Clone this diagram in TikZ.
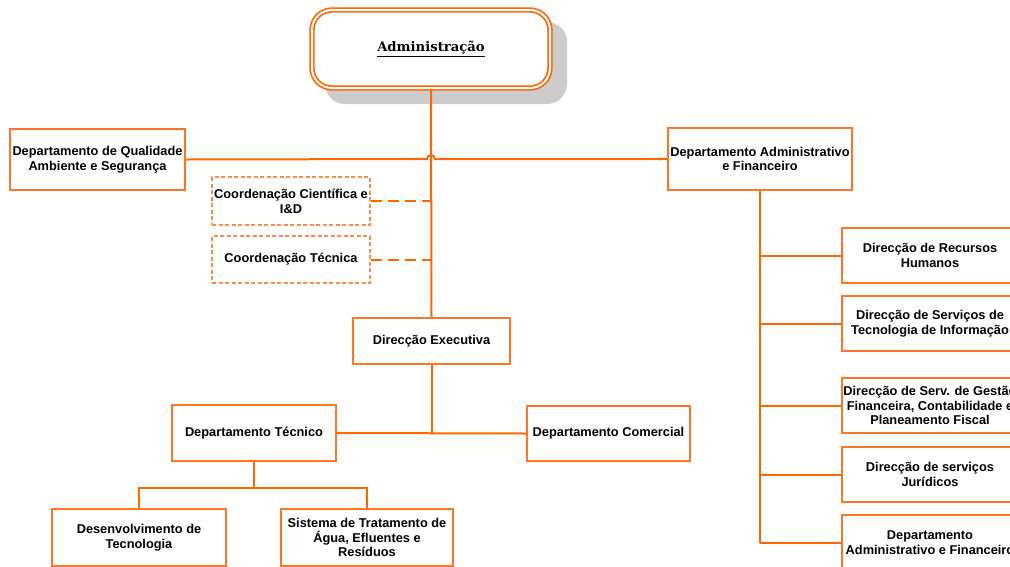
\documentclass[tikz,border=0pt]{standalone}
\usepackage{fontspec}
\setmainfont{Liberation Sans}
\newfontfamily\titlefont{DejaVu Serif}
\usetikzlibrary{positioning}

\definecolor{lineorange}{RGB}{255,102,0}
\definecolor{boxorange}{RGB}{250,118,40}
\definecolor{dashorange}{RGB}{250,140,75}
\definecolor{shadowgray}{RGB}{204,204,204}

\begin{document}
\begin{tikzpicture}[x=1pt,y=-1pt,
    box/.style={draw=boxorange, line width=1.3pt, fill=white, align=center,
        font=\fontsize{12.8}{14.8}\selectfont\bfseries, inner sep=0pt},
    dbox/.style={box, draw=dashorange, line width=1.2pt, dash pattern=on 4pt off 2.5pt},
    link/.style={draw=lineorange, line width=2pt},
    dlink/.style={link, dash pattern=on 11pt off 6pt},
    every node/.style={anchor=center}]
    \useasboundingbox (0,0) rectangle (1010,566);

    % top
    \fill[shadowgray, rounded corners=20pt] (325,22) rectangle (567,104);
    \node (adm) [draw=lineorange, line width=1.7pt, double=white, double distance=2pt,
        rounded corners=20pt, fill=white, minimum width=238pt, minimum height=78pt,
        font=\titlefont\fontsize{13.2}{15}\selectfont\bfseries]
        at (431,49) {\underline{Administração}};

    \node (dqas) [box, minimum width=175pt, minimum height=61pt] at (97.5,159.5)
        {Departamento de Qualidade\\Ambiente e Segurança};
    \node (daf) [box, minimum width=184pt, minimum height=62pt] at (760,159)
        {Departamento Administrativo\\e Financeiro};

    \node (ccid) [dbox, minimum width=158pt, minimum height=48pt] at (291,201)
        {Coordenação Científica e\\I\&D};
    \node (ct) [dbox, minimum width=158pt, minimum height=47pt] at (291,259.5)
        {Coordenação Técnica};

    \node (dex) [box, minimum width=157pt, minimum height=46pt] at (431.5,341)
        {Direcção Executiva};
    \node (dtec) [box, minimum width=164pt, minimum height=56pt] at (254,433)
        {Departamento Técnico};
    \node (dcom) [box, minimum width=163pt, minimum height=55pt] at (608.5,433.5)
        {Departamento Comercial};
    \node (dtecno) [box, minimum width=174pt, minimum height=57pt] at (139,537.5)
        {Desenvolvimento de\\Tecnologia};
    \node (sta) [box, minimum width=172pt, minimum height=57pt] at (367,537.5)
        {Sistema de Tratamento de\\Água, Efluentes e\\Resíduos};

    % right column
    \node (drh) [box, minimum width=176pt, minimum height=55pt] at (930,255.5)
        {Direcção de Recursos\\Humanos};
    \node (dsti) [box, minimum width=176pt, minimum height=55pt] at (930,323.5)
        {Direcção de Serviços de\\Tecnologia de Informação};
    \node (dsgf) [box, minimum width=176pt, minimum height=55pt] at (930,405.5)
        {Direcção de Serv. de Gestão\\Financeira, Contabilidade e\\Planeamento Fiscal};
    \node (dsj) [box, minimum width=176pt, minimum height=55pt] at (930,474.5)
        {Direcção de serviços\\Jurídicos};
    \node (daf2) [box, minimum width=176pt, minimum height=56pt] at (930,543)
        {Departamento\\Administrativo e Financeiro};

    % connectors
    \coordinate (jl) at (427,159);
    \coordinate (jr) at (435,159);
    \draw[link] (adm.south) -- (dex.north);
    \draw[link] (dqas.east) -- (jl) arc[start angle=180, end angle=0, radius=4pt] -- (daf.west);
    \draw[dlink] (ccid.east) -- (ccid.east -| adm.south);
    \draw[dlink] (ct.east) -- (ct.east -| adm.south);

    \coordinate (hub) at (431.5,433);
    \draw[link] (dex.south) -- (hub);
    \draw[link] (dtec.east) -- (dcom.west);

    \coordinate (split) at (254,488);
    \draw[link] (dtec.south) -- (split);
    \draw[link] (dtecno.north) |- (split) -| (sta.north);

    \coordinate (spine) at (760,543);
    \draw[link] (daf.south) -- (spine);
    \foreach \n in {drh,dsti,dsgf,dsj,daf2}
        \draw[link] (\n.west -| daf.south) -- (\n.west);
\end{tikzpicture}
\end{document}
